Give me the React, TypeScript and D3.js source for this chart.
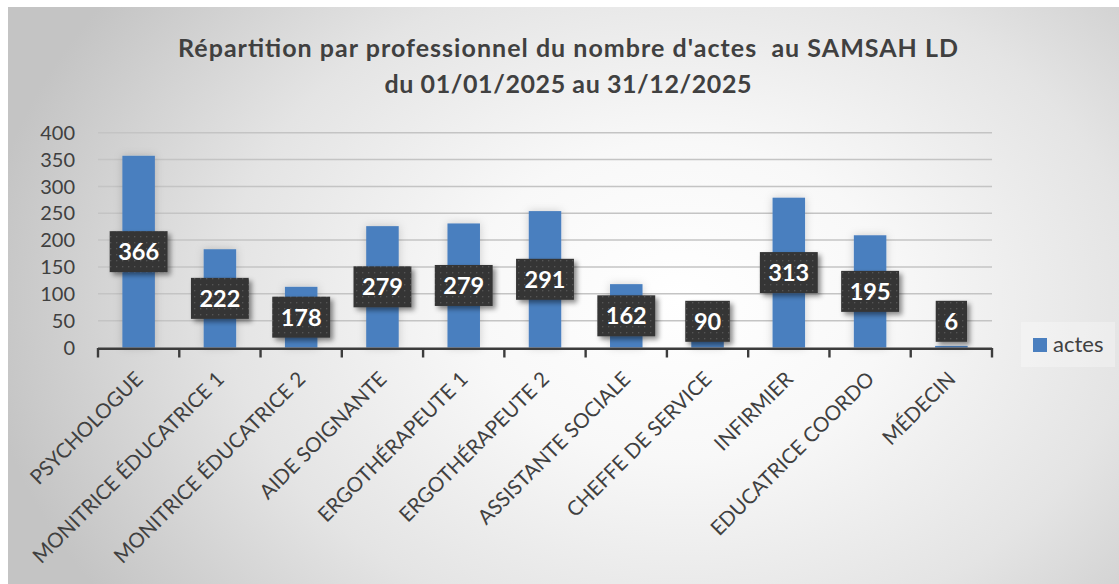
import React from "react";
import * as d3 from "d3";

const categories = [
  "PSYCHOLOGUE",
  "MONITRICE ÉDUCATRICE 1",
  "MONITRICE ÉDUCATRICE 2",
  "AIDE SOIGNANTE",
  "ERGOTHÉRAPEUTE 1",
  "ERGOTHÉRAPEUTE 2",
  "ASSISTANTE SOCIALE",
  "CHEFFE DE SERVICE",
  "INFIRMIER",
  "EDUCATRICE COORDO",
  "MÉDECIN",
];
const barValues = [357, 183, 113, 226, 231, 254, 118, 40, 279, 209, 3];
const labelValues = [366, 222, 178, 279, 279, 291, 162, 90, 313, 195, 6];
const yTicks = [0, 50, 100, 150, 200, 250, 300, 350, 400];
const seriesName = "actes";
const titleLines = [
  "Répartition par professionnel du nombre d'actes  au SAMSAH LD",
  "du 01/01/2025 au 31/12/2025",
];

const W = 1119;
const H = 584;
const plot = { left: 98, right: 992, top: 132.7, bottom: 347.5 };
const FONT = "Lato, 'Open Sans', sans-serif";
const TXT = "#404040";

export default function App() {
  const x = d3
    .scaleBand<string>()
    .domain(categories)
    .range([plot.left, plot.right])
    .paddingInner(0.6)
    .paddingOuter(0.3);
  const y = d3.scaleLinear().domain([0, 400]).range([plot.bottom, plot.top]);
  const step = x.step();
  const boundaries = d3.range(categories.length + 1).map((i) => plot.left + i * step);

  return (
    <svg
      width={W}
      height={H}
      style={{ position: "absolute", left: 0, top: 0 }}
      xmlns="http://www.w3.org/2000/svg"
    >
      <defs>
        <radialGradient
          id="bg"
          gradientUnits="userSpaceOnUse"
          cx={680}
          cy={300}
          r={700}
          gradientTransform="translate(680,300) scale(1,0.75) translate(-680,-300)"
        >
          <stop offset="0" stopColor="#ffffff" />
          <stop offset="0.3" stopColor="#f8f8f8" />
          <stop offset="0.65" stopColor="#e4e4e4" />
          <stop offset="1" stopColor="#c4c4c4" />
        </radialGradient>
        <pattern id="dots" width="6" height="6" patternUnits="userSpaceOnUse">
          <rect width="6" height="6" fill="#363636" />
          <rect x="2" y="2" width="1.3" height="1.3" fill="#555555" />
        </pattern>
        <filter id="lblShadow" x="-30%" y="-30%" width="160%" height="160%">
          <feDropShadow dx="3" dy="3" stdDeviation="2.5" floodColor="#000" floodOpacity="0.45" />
        </filter>
        <filter id="barShadow" x="-40%" y="-20%" width="180%" height="140%">
          <feDropShadow dx="0" dy="0" stdDeviation="4" floodColor="#000" floodOpacity="0.18" />
        </filter>
      </defs>
      <rect x={0} y={0} width={W} height={H} fill="#ffffff" />
      <rect x={8} y={7} width={W - 8} height={H - 7} fill="url(#bg)" />

      {/* title */}
      <g fontFamily={FONT} fontWeight="bold" fill={TXT} textAnchor="middle" fontSize={25}>
        <text x={568} y={57} textLength={780} lengthAdjust="spacing" style={{ whiteSpace: "pre" }}>
          {titleLines[0]}
        </text>
        <text x={568} y={93} textLength={367} lengthAdjust="spacing">
          {titleLines[1]}
        </text>
      </g>

      {/* gridlines */}
      <g>
        {yTicks.filter((t) => t > 0).map((t) => (
          <line
            key={t}
            x1={plot.left}
            x2={plot.right}
            y1={y(t)}
            y2={y(t)}
            stroke="#c4c4c4"
            strokeWidth={1.5}
          />
        ))}
      </g>

      {/* y tick labels */}
      <g fontFamily={FONT} fontSize={20} fill={TXT} textAnchor="end">
        {yTicks.map((t) => (
          <text key={t} x={75} y={y(t)} dy="0.36em">
            {t}
          </text>
        ))}
      </g>

      {/* bars */}
      <g filter="url(#barShadow)">
        {categories.map((c, i) => (
          <rect
            key={c}
            x={x(c)}
            y={y(barValues[i])}
            width={x.bandwidth()}
            height={plot.bottom - y(barValues[i])}
            fill="#4a7fbf"
          />
        ))}
      </g>

      {/* axis */}
      <line x1={plot.left} x2={plot.right} y1={348.8} y2={348.8} stroke="#3c3c3c" strokeWidth={2.6} />
      {boundaries.map((bx, i) => (
        <line key={i} x1={bx} x2={bx} y1={348} y2={357.5} stroke="#3c3c3c" strokeWidth={2.4} />
      ))}

      {/* category labels */}
      <g fontFamily={FONT} fontSize={20.5} fill={TXT} textAnchor="end">
        {categories.map((c) => {
          const cx = (x(c) as number) + x.bandwidth() / 2;
          return (
            <text key={c} transform={`translate(${cx - 5},${370}) rotate(-45)`} dy="0.72em">
              {c}
            </text>
          );
        })}
      </g>

      {/* data labels */}
      <g fontFamily={FONT} fontWeight="bold" fontSize={23.5}>
        {categories.map((c, i) => {
          const cx = (x(c) as number) + x.bandwidth() / 2;
          const mid = (y(barValues[i]) + plot.bottom) / 2;
          const cy = Math.min(mid, plot.bottom - 26.2);
          const txt = String(labelValues[i]);
          const bw = txt.length * 13.3 + 18;
          const bh = 41;
          return (
            <g key={c}>
              <rect
                x={cx - bw / 2}
                y={cy - bh / 2}
                width={bw}
                height={bh}
                fill="url(#dots)"
                filter="url(#lblShadow)"
              />
              <text x={cx} y={cy} dy="0.36em" textAnchor="middle" fill="#ffffff">
                {txt}
              </text>
            </g>
          );
        })}
      </g>

      {/* legend */}
      <rect x={1021} y={322} width={94} height={45} fill="#ffffff" fillOpacity={0.3} />
      <rect x={1033} y={338} width={14} height={14} fill="#4a7fbf" />
      <text x={1053} y={352.3} fontFamily={FONT} fontSize={22} fill={TXT}>
        {seriesName}
      </text>
    </svg>
  );
}
